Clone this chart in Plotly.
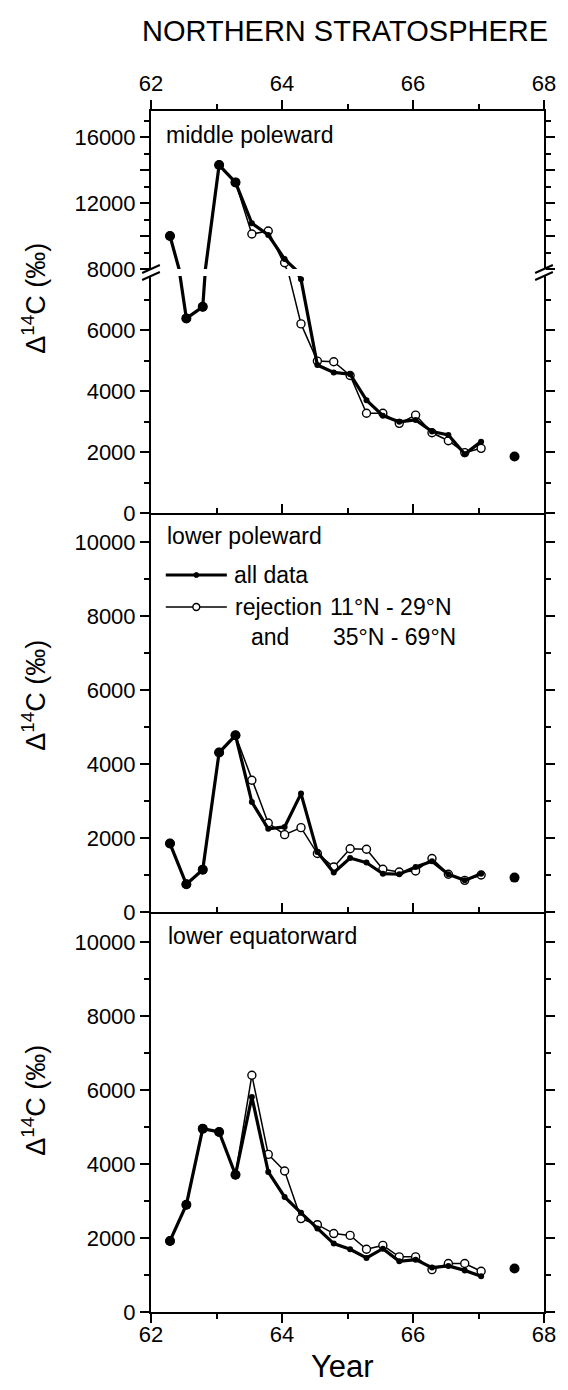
import plotly.graph_objects as go

# ---------------- data ----------------
years = [62.29, 62.54, 62.79, 63.04, 63.29, 63.54, 63.79, 64.04, 64.29, 64.54,
         64.79, 65.04, 65.29, 65.54, 65.79, 66.04, 66.29, 66.54, 66.79, 67.04]
extra_year = [67.55]

mid_pole_all = [10000, 6380, 6760, 14300, 13250, 10770, 10060, 8600, 7660, 4850,
                4610, 4550, 3700, 3190, 2990, 3050, 2670, 2560, 1930, 2340]
mid_pole_rej = [10000, 6380, 6760, 14300, 13250, 10120, 10300, 8380, 6200, 4980,
                4960, 4510, 3270, 3270, 2940, 3210, 2630, 2370, 1980, 2120]
mid_pole_extra = [1850]

low_pole_all = [1850, 750, 1145, 4310, 4775, 2970, 2250, 2300, 3200, 1620,
                1065, 1460, 1335, 1035, 1020, 1215, 1370, 1020, 855, 1035]
low_pole_rej = [1850, 750, 1145, 4310, 4775, 3560, 2405, 2090, 2280, 1580,
                1215, 1710, 1695, 1155, 1080, 1110, 1445, 1020, 855, 1000]
low_pole_extra = [930]

low_eq_all = [1920, 2900, 4955, 4865, 3710, 5810, 3785, 3110, 2680, 2255,
              1850, 1695, 1460, 1710, 1370, 1415, 1200, 1245, 1125, 965]
low_eq_rej = [1920, 2900, 4955, 4865, 3710, 6400, 4260, 3810, 2525, 2360,
              2120, 2070, 1695, 1800, 1490, 1490, 1145, 1310, 1310, 1100]
low_eq_extra = [1175]

panel_labels = ["middle poleward", "lower poleward", "lower equatorward"]
legend_all = "all data"
legend_rej = ["rejection", "11°N - 29°N", "and", "35°N - 69°N"]
title_text = "NORTHERN STRATOSPHERE"
x_title = "Year"
y_title = "Δ<sup>14</sup>C (‰)"

# ---------------- layout geometry ----------------
W, H = 568, 1390
L, R, T, B = 151, 18, 111, 78
PW, PH = W - L - R, H - T - B
BOT = H - B


def px(x):
    return (x - L) / PW


def py(y):
    return (BOT - y) / PH


FONT = "Liberation Sans, Arial, Helvetica, sans-serif"
BLACK = "black"

fig = go.Figure()

sizes = [10 if yr < 63.4 else 6 for yr in years]


def add_panel(xa, ya, all_v, rej_v, extra_v):
    fig.add_trace(go.Scatter(
        x=years, y=rej_v, xaxis=xa, yaxis=ya, mode="lines+markers",
        line=dict(color=BLACK, width=1.5),
        marker=dict(symbol="circle", size=8, color="white", opacity=1,
                    line=dict(color=BLACK, width=1.4)),
        showlegend=False, hoverinfo="skip"))
    fig.add_trace(go.Scatter(
        x=years, y=all_v, xaxis=xa, yaxis=ya, mode="lines+markers",
        line=dict(color=BLACK, width=3.2),
        marker=dict(symbol="circle", size=sizes, color=BLACK, opacity=1,
                    line=dict(width=0)),
        showlegend=False, hoverinfo="skip"))
    fig.add_trace(go.Scatter(
        x=extra_year, y=extra_v, xaxis=xa, yaxis=ya, mode="markers",
        marker=dict(symbol="circle", size=10, color=BLACK, line=dict(width=0)),
        showlegend=False, hoverinfo="skip"))


add_panel("x", "y", mid_pole_all, mid_pole_rej, mid_pole_extra)
add_panel("x2", "y2", mid_pole_all, mid_pole_rej, mid_pole_extra)
add_panel("x3", "y3", low_pole_all, low_pole_rej, low_pole_extra)
add_panel("x4", "y4", low_eq_all, low_eq_rej, low_eq_extra)

tickfont = dict(family=FONT, size=22, color=BLACK)
minor_y = dict(tickmode="linear", tick0=0, dtick=1000, ticks="outside",
               ticklen=5, tickwidth=1.5, tickcolor=BLACK)
minor_x = dict(tickmode="linear", tick0=62, dtick=1, ticklen=5,
               tickwidth=1.5, tickcolor=BLACK)


def yax(dom, rng, vals, texts):
    return dict(domain=dom, range=rng, tickmode="array", tickvals=vals,
                ticktext=texts, ticks="outside", ticklen=9, tickwidth=2,
                tickcolor=BLACK, showline=True, linewidth=2, linecolor=BLACK,
                mirror="ticks", showgrid=False, zeroline=False,
                tickfont=tickfont, minor=minor_y, fixedrange=True)


def xax(anchor, side, ticks, labels, mirror=False, standoff=0):
    d = dict(domain=[0, 1], range=[62, 68], anchor=anchor, side=side,
             tickmode="array", tickvals=[62, 64, 66, 68],
             ticks=ticks, ticklen=9, tickwidth=2, tickcolor=BLACK,
             showline=True, linewidth=2, linecolor=BLACK, mirror=mirror,
             showgrid=False, zeroline=False, showticklabels=labels,
             tickfont=tickfont, fixedrange=True, ticklabelstandoff=standoff,
             minor=dict(minor_x, ticks=ticks))
    return d


y_up0, y_low1 = 269, 276
fig.update_layout(
    width=W, height=H, margin=dict(l=L, r=R, t=T, b=B),
    paper_bgcolor="white", plot_bgcolor="white",
    font=dict(family=FONT, color=BLACK),
    xaxis=xax("y", "top", "outside", True),
    yaxis=yax([py(y_up0), 1], [8000, 8000 + (y_up0 - T) / 0.0165],
              [8000, 10000, 12000, 14000, 16000],
              ["8000", "", "12000", "", "16000"]),
    xaxis2=xax("y2", "bottom", "inside", False),
    yaxis2=yax([py(513), py(y_low1)], [0, (513 - y_low1) / 0.0305],
               [0, 2000, 4000, 6000], ["0", "2000", "4000", "6000"]),
    xaxis3=xax("y3", "bottom", "inside", False),
    yaxis3=yax([py(912), py(513)], [0, (912 - 513) / 0.037],
               [0, 2000, 4000, 6000, 8000, 10000],
               ["0", "2000", "4000", "6000", "8000", "10000"]),
    xaxis4=xax("y4", "bottom", "outside", True, standoff=-7),
    yaxis4=yax([0, py(912)], [0, (BOT - 912) / 0.037],
               [0, 2000, 4000, 6000, 8000, 10000],
               ["0", "2000", "4000", "6000", "8000", "10000"]),
)
for k in ["yaxis", "yaxis2", "yaxis3", "yaxis4"]:
    fig.layout[k].anchor = "x" + ("" if k == "yaxis" else k[-1])

shapes = []
# axis-break marks
for xb in (L, W - R):
    for yb in (y_up0, y_low1):
        shapes.append(dict(type="line", xref="paper", yref="paper",
                           x0=px(xb - 9), y0=py(yb + 4), x1=px(xb + 9), y1=py(yb - 4),
                           line=dict(color=BLACK, width=2)))
# legend samples
ly1, ly2 = 575, 607
shapes.append(dict(type="line", xref="paper", yref="paper", x0=px(166), x1=px(228),
                   y0=py(ly1), y1=py(ly1), line=dict(color=BLACK, width=3.2)))
shapes.append(dict(type="circle", xref="paper", yref="paper", x0=px(194.5), x1=px(199.5),
                   y0=py(ly1 + 2.5), y1=py(ly1 - 2.5), fillcolor=BLACK,
                   line=dict(color=BLACK, width=1)))
shapes.append(dict(type="line", xref="paper", yref="paper", x0=px(166), x1=px(228),
                   y0=py(ly2), y1=py(ly2), line=dict(color=BLACK, width=1.5)))
shapes.append(dict(type="circle", xref="paper", yref="paper", x0=px(193.5), x1=px(200.5),
                   y0=py(ly2 + 3.5), y1=py(ly2 - 3.5), fillcolor="white",
                   line=dict(color=BLACK, width=1.4)))
fig.update_layout(shapes=shapes)

ann = []


def text(x, y, s, size=23, xanchor="left", angle=0):
    ann.append(dict(x=px(x), y=py(y), xref="paper", yref="paper", text=s,
                    showarrow=False, xanchor=xanchor, yanchor="middle",
                    textangle=angle, font=dict(family=FONT, size=size, color=BLACK)))


text(164, 135, panel_labels[0])
text(165, 536, panel_labels[1])
text(166, 936, panel_labels[2])
text(233, ly1, legend_all)
text(234, ly2, legend_rej[0])
text(331, ly2, legend_rej[1])
text(250, 637, legend_rej[2])
text(334, 637, legend_rej[3])
text(348, 31, title_text, size=29, xanchor="center")
text(345, 1366, x_title, size=31, xanchor="center")
for yc in (298, 695, 1100):
    text(32, yc, y_title, size=27, xanchor="center", angle=-90)
fig.update_layout(annotations=ann)

fig.write_html("out.html")
